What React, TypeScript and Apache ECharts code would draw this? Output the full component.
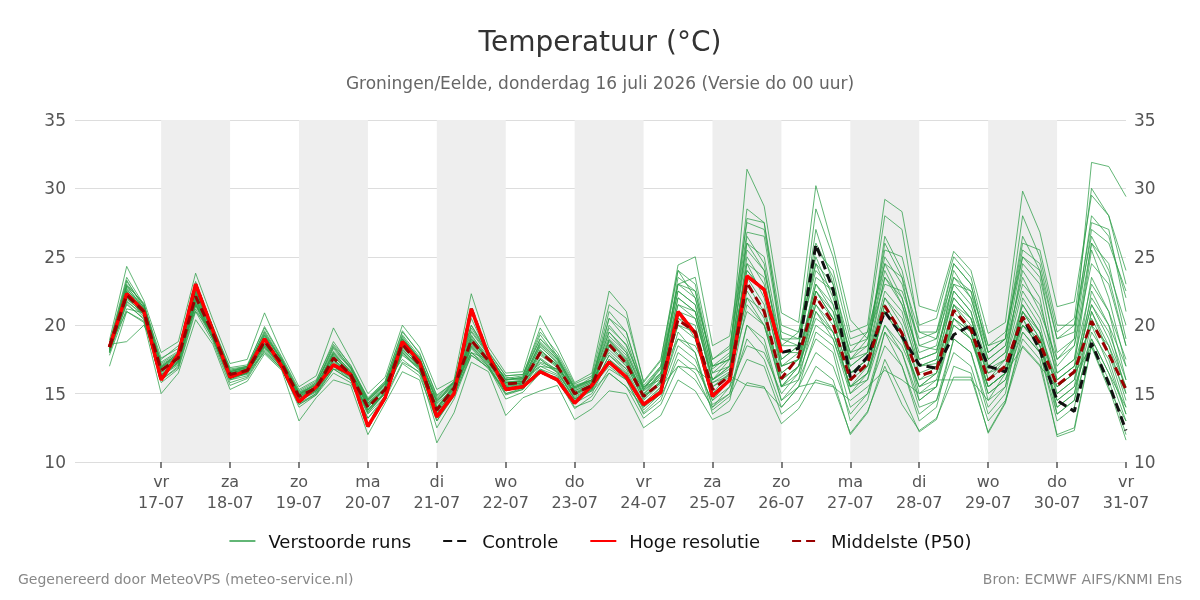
import React, { useEffect, useRef } from "react";
import * as echarts from "echarts";

// x in hours after 17-07-2026 00:00; runs are 6-hourly from 16-07 06:00
const firstHour = -18;
const stepHours = 6;
const axisMinHour = -30;
const axisMaxHour = 336;
const dayLabels = ["vr", "za", "zo", "ma", "di", "wo", "do", "vr", "za", "zo", "ma", "di", "wo", "do", "vr"];
const dateLabels = ["17-07", "18-07", "19-07", "20-07", "21-07", "22-07", "23-07", "24-07", "25-07", "26-07", "27-07", "28-07", "29-07", "30-07", "31-07"];
const shadedDates = ["17-07", "19-07", "21-07", "23-07", "25-07", "27-07", "29-07"];
const yTicks = [10, 15, 20, 25, 30, 35];

const hres = [18.4, 22.3, 21.0, 16.0, 17.9, 23.0, 19.6, 16.2, 16.7, 19.0,
  17.0, 14.4, 15.5, 17.1, 16.4, 12.6, 14.7, 18.8, 17.3, 13.3,
  15.0, 21.2, 17.8, 15.3, 15.5, 16.6, 16.0, 14.3, 15.6, 17.3,
  16.2, 14.2, 15.1, 21.0, 19.4, 14.8, 16.0, 23.6, 22.6, 18.0];

const controle = [18.4, 22.3, 21.0, 16.0, 17.9, 23.0, 19.6, 16.2, 16.7, 19.0,
  17.0, 14.4, 15.5, 17.1, 16.4, 12.6, 14.7, 18.8, 17.3, 13.3,
  15.0, 21.2, 17.8, 15.3, 15.5, 16.6, 16.0, 14.3, 15.6, 17.3,
  16.2, 14.2, 15.1, 21.0, 19.4, 14.8, 16.0, 23.6, 22.6, 18.0,
  18.3, 25.9, 22.6, 16.2, 17.7, 21.0, 19.2, 17.1, 16.85, 19.3,
  20.0, 17.0, 16.6, 20.6, 18.2, 14.5, 13.7, 18.7, 15.75, 12.3];

const p50 = [18.4, 22.2, 21.0, 16.7, 17.6, 22.1, 19.4, 16.4, 16.7, 18.8,
  17.2, 14.8, 15.4, 17.6, 16.4, 14.0, 15.3, 18.6, 17.1, 13.8,
  15.4, 18.9, 17.4, 15.7, 15.8, 18.0, 17.0, 15.0, 15.6, 18.6,
  17.2, 14.8, 15.8, 20.4, 19.5, 15.3, 16.3, 23.1, 21.0, 16.1,
  17.7, 22.1, 20.1, 16.0, 17.2, 21.4, 19.4, 16.3, 16.7, 21.1,
  19.7, 16.0, 17.0, 20.6, 18.7, 15.6, 16.6, 20.3, 17.9, 15.3];

const m01 = [18.6, 23.0, 21.5, 17.2, 18.0, 22.6, 19.8, 16.8, 17.0, 19.2, 17.5, 15.0, 15.6, 18.0, 16.6, 14.3, 15.5, 19.0, 17.4, 14.0, 15.6, 19.5, 17.8, 16.0, 16.1, 18.6, 17.4, 15.3, 15.9, 19.5, 18.0, 15.2, 16.3, 21.5, 20.5, 16.0, 17.0, 24.5, 22.0, 17.0, 18.0, 23.0, 21.0, 17.0, 18.0, 23.5, 22.0, 17.5, 18.0, 23.0, 21.5, 17.5, 18.5, 23.5, 21.0, 17.5, 19.0, 31.9, 31.6, 29.4];
const m02 = [18.2, 22.5, 20.8, 16.5, 17.4, 21.8, 19.2, 16.2, 16.5, 18.5, 17.0, 14.5, 15.2, 17.2, 16.2, 13.6, 15.0, 18.2, 17.0, 13.5, 15.2, 18.5, 17.2, 15.5, 15.7, 17.8, 16.9, 14.8, 15.4, 18.9, 17.6, 14.9, 16.4, 22.0, 21.0, 16.5, 17.6, 31.4, 28.7, 20.9, 20.2, 30.2, 25.7, 20.4, 19.0, 25.0, 23.0, 18.5, 18.2, 22.0, 20.5, 16.8, 17.5, 21.5, 19.5, 16.0, 17.0, 22.0, 20.0, 17.0];
const m03 = [18.0, 21.5, 20.5, 16.0, 17.0, 21.5, 19.0, 16.0, 16.3, 18.3, 16.9, 14.2, 15.0, 17.0, 16.0, 13.2, 14.8, 18.0, 16.8, 13.0, 14.8, 18.0, 17.0, 15.0, 15.3, 17.0, 16.4, 14.3, 15.0, 17.5, 16.5, 14.0, 15.0, 18.5, 17.5, 14.2, 15.0, 19.0, 17.5, 14.0, 15.5, 18.0, 17.0, 13.5, 15.0, 18.5, 17.0, 13.5, 14.5, 18.0, 17.0, 13.0, 14.5, 19.0, 17.5, 11.85, 12.3, 18.5, 15.5, 11.6];
const m04 = [18.6, 18.8, 20.0, 17.5, 18.5, 21.0, 19.5, 16.7, 16.9, 18.5, 17.3, 15.0, 15.5, 16.8, 16.5, 14.5, 15.8, 17.5, 16.5, 14.5, 15.5, 18.0, 17.5, 16.2, 16.0, 17.0, 16.8, 15.5, 16.0, 18.0, 16.8, 15.5, 16.5, 19.0, 18.5, 15.8, 16.6, 21.0, 20.0, 16.5, 17.5, 21.5, 20.0, 16.5, 17.5, 22.0, 20.5, 17.0, 17.2, 21.0, 19.5, 16.5, 17.0, 20.0, 19.0, 16.0, 17.0, 20.0, 18.5, 15.5];
const m05 = [17.0, 21.0, 20.2, 15.0, 16.5, 20.4, 18.6, 15.3, 15.9, 17.9, 16.7, 13.0, 14.7, 16.0, 15.6, 12.0, 14.3, 16.6, 16.0, 11.4, 13.6, 17.3, 16.6, 13.4, 14.7, 15.2, 15.6, 13.1, 13.9, 15.2, 15.0, 12.5, 13.4, 16.0, 15.2, 13.1, 13.7, 15.8, 15.5, 12.8, 13.9, 16.0, 15.6, 12.1, 13.7, 17.0, 14.2, 12.3, 13.2, 16.2, 16.2, 12.2, 14.4, 18.5, 17.1, 12.0, 12.5, 18.6, 16.0, 12.0];
const m06 = [18.9, 24.3, 21.8, 18.0, 18.8, 23.8, 20.4, 17.2, 17.5, 20.9, 18.0, 15.5, 16.3, 19.8, 17.5, 15.0, 16.2, 20.0, 18.4, 15.3, 16.0, 22.3, 18.4, 16.5, 16.6, 20.7, 18.4, 15.8, 16.5, 22.5, 21.0, 15.8, 17.4, 24.4, 25.0, 18.5, 19.2, 27.5, 27.0, 19.5, 19.0, 25.0, 22.0, 18.0, 18.5, 24.0, 21.5, 18.0, 18.5, 24.0, 22.0, 17.5, 18.5, 25.0, 23.5, 18.0, 19.0, 27.0, 26.0, 22.5];
const m07 = [18.3, 22.0, 21.2, 16.8, 17.5, 22.5, 19.6, 16.5, 16.8, 19.0, 17.3, 14.9, 15.5, 18.0, 16.6, 14.2, 15.4, 19.0, 17.5, 14.0, 15.5, 19.3, 17.5, 15.8, 15.9, 18.8, 17.5, 15.2, 15.8, 20.5, 19.5, 15.5, 16.0, 23.5, 22.5, 17.0, 17.5, 27.8, 27.5, 19.0, 18.5, 28.5, 25.0, 19.5, 20.0, 29.2, 28.3, 21.4, 21.0, 25.4, 24.0, 19.4, 20.2, 29.8, 26.8, 21.35, 21.7, 29.5, 28.0, 24.0];
const m08 = [18.1, 21.8, 20.6, 16.2, 17.3, 21.6, 19.1, 16.1, 16.5, 18.4, 17.0, 14.6, 15.3, 17.3, 16.3, 13.8, 15.1, 18.3, 16.9, 13.5, 15.1, 18.5, 17.1, 15.4, 15.6, 17.5, 16.6, 14.6, 15.2, 17.5, 16.4, 13.8, 15.0, 19.5, 18.0, 13.5, 14.5, 20.0, 19.0, 14.5, 16.0, 19.0, 18.0, 13.0, 14.5, 19.5, 17.0, 13.0, 14.0, 19.0, 18.0, 13.5, 15.0, 21.0, 19.0, 14.0, 15.0, 21.0, 18.0, 14.0];
const m09 = [18.5, 22.8, 21.3, 17.0, 17.8, 22.9, 19.7, 16.6, 16.9, 19.5, 17.4, 14.9, 15.7, 18.3, 16.8, 14.4, 15.7, 19.3, 17.7, 14.3, 15.8, 19.8, 17.9, 16.0, 16.2, 19.0, 17.8, 15.6, 16.0, 19.8, 18.6, 15.4, 17.0, 23.0, 23.5, 17.5, 18.5, 26.0, 25.0, 18.5, 19.5, 26.0, 23.5, 17.5, 18.0, 26.5, 24.0, 18.5, 19.0, 24.5, 23.0, 18.0, 19.0, 25.5, 24.5, 19.0, 20.0, 26.5, 24.0, 20.0];
const m10 = [18.0, 22.1, 20.7, 16.4, 17.2, 21.9, 19.2, 16.2, 16.4, 18.6, 17.1, 14.6, 15.2, 17.5, 16.2, 13.8, 15.2, 18.1, 16.9, 13.6, 15.3, 18.7, 17.3, 15.5, 15.8, 17.3, 16.8, 14.9, 15.5, 17.0, 16.0, 13.6, 14.8, 17.5, 16.5, 13.8, 14.8, 17.5, 17.0, 13.5, 14.5, 17.0, 16.0, 12.0, 13.6, 17.5, 15.0, 12.2, 13.1, 17.0, 16.5, 12.1, 14.3, 19.5, 18.0, 13.5, 14.5, 19.0, 16.5, 13.0];
const m11 = [18.7, 23.5, 21.5, 17.6, 18.3, 22.8, 19.9, 16.9, 17.1, 19.8, 17.6, 15.2, 15.9, 18.8, 17.0, 14.7, 15.9, 19.5, 18.0, 14.8, 15.9, 20.0, 18.0, 16.3, 16.4, 19.5, 18.0, 15.7, 16.3, 21.5, 20.5, 15.9, 17.5, 24.0, 23.0, 17.0, 18.0, 28.5, 27.5, 20.0, 19.5, 24.5, 23.0, 18.5, 19.0, 25.5, 25.0, 20.0, 20.5, 25.0, 23.5, 18.5, 19.0, 28.0, 25.0, 19.5, 20.5, 30.0, 28.0, 23.0];
const m12 = [17.8, 21.2, 20.9, 16.0, 16.9, 21.2, 19.0, 15.8, 16.2, 18.2, 16.8, 14.0, 14.9, 16.8, 16.0, 13.5, 14.8, 17.3, 16.6, 12.5, 14.6, 17.8, 16.9, 14.6, 15.1, 16.5, 16.2, 14.0, 14.5, 16.5, 15.5, 13.2, 14.2, 17.0, 16.0, 14.0, 15.5, 18.5, 18.0, 15.0, 16.5, 20.0, 19.0, 15.0, 16.0, 20.0, 18.0, 14.5, 15.5, 20.0, 19.0, 15.0, 16.0, 20.5, 18.0, 13.0, 14.0, 19.5, 17.5, 13.5];
const m13 = [18.4, 22.4, 21.1, 16.6, 17.6, 22.2, 19.4, 16.4, 16.7, 18.9, 17.2, 14.8, 15.4, 17.8, 16.4, 14.0, 15.3, 18.7, 17.2, 13.8, 15.4, 19.0, 17.4, 15.7, 15.8, 18.2, 17.1, 15.0, 15.6, 18.8, 17.4, 14.8, 15.8, 22.0, 21.0, 15.5, 16.5, 25.0, 23.0, 17.0, 17.5, 23.5, 22.5, 16.5, 17.5, 22.5, 21.0, 16.5, 17.0, 22.5, 21.0, 16.0, 17.5, 24.5, 23.0, 16.5, 17.5, 26.0, 24.5, 19.0];
const m14 = [18.2, 22.7, 21.0, 16.9, 17.7, 21.9, 19.3, 16.3, 16.6, 18.7, 17.1, 14.7, 15.3, 17.5, 16.5, 14.1, 15.4, 18.4, 17.1, 14.2, 15.5, 18.8, 17.6, 15.9, 15.9, 17.9, 17.0, 15.1, 15.7, 18.2, 17.0, 14.6, 16.0, 20.0, 19.5, 15.5, 16.2, 22.0, 21.0, 16.0, 17.0, 20.5, 19.5, 15.5, 16.5, 21.0, 19.0, 15.5, 16.0, 20.5, 19.0, 15.5, 16.5, 20.5, 18.5, 14.5, 15.5, 22.5, 20.0, 15.0];
const m15 = [18.5, 21.0, 20.3, 16.3, 17.4, 21.4, 19.0, 16.0, 16.5, 18.0, 16.8, 14.3, 15.0, 16.8, 16.0, 13.9, 15.0, 17.8, 16.9, 13.7, 15.2, 18.0, 16.8, 15.2, 15.5, 16.8, 16.3, 14.5, 15.2, 16.5, 15.5, 14.0, 15.5, 17.0, 16.8, 15.8, 16.3, 15.6, 15.4, 14.0, 15.5, 15.8, 15.5, 14.5, 15.5, 16.7, 16.0, 15.0, 16.0, 16.0, 16.0, 14.5, 16.5, 18.4, 17.0, 15.5, 16.5, 18.4, 15.3, 13.0];
const m16 = [18.4, 23.2, 21.4, 16.9, 18.0, 22.5, 19.6, 16.5, 16.8, 19.3, 17.4, 15.0, 15.7, 18.5, 16.9, 14.5, 15.6, 19.2, 17.5, 14.6, 15.7, 20.5, 17.8, 16.1, 16.3, 19.8, 17.7, 15.4, 16.2, 20.0, 18.5, 15.6, 17.0, 24.0, 22.0, 16.5, 17.0, 26.5, 24.5, 17.5, 18.5, 27.0, 23.0, 17.0, 18.0, 26.0, 23.5, 17.0, 17.5, 23.5, 22.5, 17.0, 18.0, 24.0, 22.0, 16.0, 17.0, 25.5, 22.0, 17.0];
const m17 = [18.0, 21.6, 20.4, 15.8, 16.8, 21.0, 18.8, 15.6, 16.1, 18.1, 16.8, 14.2, 14.9, 16.5, 15.8, 13.2, 14.6, 17.2, 16.3, 13.0, 14.9, 17.8, 16.9, 14.9, 15.3, 16.8, 16.0, 13.9, 14.8, 16.8, 16.0, 13.5, 14.5, 18.0, 17.0, 14.5, 15.5, 21.5, 20.0, 15.5, 16.0, 21.0, 19.5, 15.5, 16.0, 21.5, 19.5, 15.0, 15.5, 20.5, 19.5, 14.5, 15.5, 22.0, 20.0, 15.0, 16.0, 23.5, 21.0, 16.0];
const m18 = [18.6, 22.9, 21.6, 17.3, 18.1, 23.2, 19.9, 16.7, 17.0, 19.9, 17.7, 15.3, 16.0, 18.6, 17.1, 14.6, 15.9, 19.6, 17.9, 14.9, 15.8, 21.0, 18.1, 16.3, 16.4, 19.0, 17.6, 15.5, 16.0, 21.0, 19.5, 15.3, 16.8, 22.5, 21.5, 16.0, 17.5, 25.5, 24.0, 18.0, 18.0, 22.5, 20.5, 17.5, 19.0, 23.0, 22.5, 19.0, 19.5, 23.5, 22.0, 18.0, 19.0, 26.0, 25.5, 20.0, 20.0, 27.5, 27.0, 21.0];
const m19 = [18.3, 21.9, 20.9, 16.4, 17.3, 21.7, 19.2, 16.3, 16.6, 18.5, 17.0, 14.5, 15.2, 17.0, 16.2, 13.8, 15.1, 18.0, 16.8, 13.2, 15.0, 18.3, 17.0, 15.0, 15.4, 17.5, 16.5, 14.6, 15.3, 17.8, 16.8, 14.3, 15.5, 21.0, 19.0, 14.5, 16.0, 23.5, 21.5, 15.5, 16.5, 22.0, 20.5, 15.0, 16.5, 21.0, 19.5, 14.5, 15.5, 21.5, 20.0, 15.5, 16.5, 21.5, 19.5, 13.5, 14.5, 21.0, 18.5, 14.5];
const m20 = [18.7, 22.6, 21.3, 17.1, 17.9, 22.4, 19.5, 16.6, 16.9, 19.1, 17.3, 15.1, 15.6, 17.9, 16.7, 14.3, 15.5, 18.8, 17.4, 14.5, 15.6, 19.2, 17.7, 15.8, 16.0, 18.4, 17.3, 15.2, 15.8, 19.2, 18.0, 15.0, 16.5, 22.5, 21.5, 16.8, 17.8, 24.0, 22.5, 17.5, 18.5, 24.5, 21.5, 17.5, 18.5, 24.5, 22.0, 17.5, 18.0, 22.5, 21.0, 17.0, 18.0, 23.0, 21.5, 17.0, 18.5, 24.5, 23.0, 18.5];
const m21 = [18.3, 22.9, 21.1, 16.6, 17.5, 22.3, 19.5, 16.5, 16.8, 18.9, 17.2, 14.8, 15.5, 17.9, 16.5, 14.1, 15.4, 18.9, 17.3, 13.9, 15.5, 19.0, 17.5, 15.7, 15.9, 18.5, 17.2, 15.0, 15.6, 18.9, 17.5, 14.9, 16.2, 21.5, 21.0, 16.0, 16.8, 24.0, 22.5, 16.5, 17.5, 22.5, 20.5, 16.0, 17.0, 22.0, 20.0, 16.0, 16.5, 21.5, 20.5, 16.0, 17.0, 21.0, 19.0, 15.5, 16.5, 21.5, 19.0, 15.5];
const m22 = [18.5, 22.2, 21.4, 16.9, 17.8, 22.0, 19.6, 16.4, 16.6, 19.3, 17.4, 14.7, 15.4, 17.7, 16.6, 14.3, 15.3, 18.5, 17.0, 14.0, 15.3, 18.8, 17.3, 15.6, 15.8, 18.2, 17.1, 14.9, 15.6, 19.0, 17.8, 14.7, 15.8, 20.5, 20.0, 15.0, 16.0, 22.5, 20.5, 15.5, 17.0, 21.0, 19.0, 15.5, 17.0, 21.5, 19.5, 16.0, 17.0, 21.5, 19.5, 15.5, 16.5, 20.0, 18.5, 15.0, 16.0, 20.5, 18.0, 15.0];
const m23 = [18.4, 22.0, 20.8, 16.8, 17.7, 22.7, 19.7, 16.6, 17.0, 19.4, 17.5, 14.9, 15.8, 18.1, 16.9, 14.6, 15.8, 19.0, 17.6, 14.4, 15.9, 19.6, 17.9, 16.0, 16.1, 18.7, 17.5, 15.4, 15.9, 19.5, 18.2, 15.3, 16.9, 23.0, 22.0, 17.5, 18.3, 26.8, 26.5, 19.0, 19.0, 24.0, 22.5, 18.0, 19.5, 24.5, 23.5, 19.5, 19.0, 23.0, 22.5, 18.5, 19.5, 25.0, 24.0, 19.0, 19.5, 28.0, 26.5, 22.0];
const m24 = [18.1, 21.7, 20.8, 16.3, 17.1, 21.6, 19.1, 16.1, 16.5, 18.4, 16.9, 14.5, 15.1, 17.1, 16.1, 13.7, 15.0, 17.9, 16.7, 13.4, 15.0, 18.4, 17.0, 15.2, 15.5, 17.2, 16.6, 14.6, 15.3, 17.8, 16.6, 14.2, 15.3, 19.0, 18.0, 14.0, 15.0, 20.0, 18.5, 14.5, 15.5, 19.5, 18.5, 14.0, 15.0, 19.5, 18.0, 14.0, 14.5, 19.0, 18.0, 14.0, 15.5, 20.0, 18.5, 14.0, 15.0, 20.0, 17.0, 13.5];
const m25 = [18.6, 23.3, 21.2, 17.0, 17.9, 22.7, 19.7, 16.6, 16.9, 19.6, 17.5, 15.1, 15.8, 18.4, 16.9, 14.5, 15.7, 19.1, 17.6, 14.7, 15.8, 20.0, 17.8, 16.0, 16.2, 19.3, 17.6, 15.4, 16.0, 20.5, 19.0, 15.2, 16.5, 23.0, 22.5, 17.0, 17.5, 26.0, 24.0, 18.5, 18.5, 25.5, 24.0, 19.0, 19.5, 28.0, 27.0, 19.5, 19.5, 24.5, 23.0, 18.0, 19.0, 26.5, 24.0, 17.5, 18.5, 26.0, 23.5, 18.5];
const m26 = [18.2, 22.1, 21.0, 16.2, 17.3, 21.5, 19.2, 16.2, 16.5, 18.7, 17.1, 14.6, 15.3, 17.4, 16.3, 13.6, 15.1, 18.2, 17.0, 13.2, 15.0, 18.6, 17.3, 15.4, 15.7, 17.6, 16.7, 14.7, 15.4, 18.4, 17.1, 14.5, 15.7, 20.5, 19.5, 15.0, 16.0, 23.0, 21.0, 16.0, 17.0, 22.5, 21.0, 16.5, 17.0, 21.0, 19.0, 15.5, 16.5, 20.5, 19.5, 15.0, 16.0, 19.5, 18.0, 14.5, 15.5, 19.0, 16.5, 14.0];
const m27 = [18.5, 22.5, 21.2, 16.7, 17.6, 22.4, 19.5, 16.5, 16.8, 19.0, 17.3, 14.9, 15.5, 17.7, 16.5, 14.0, 15.4, 18.6, 17.2, 13.9, 15.5, 19.1, 17.5, 15.8, 15.9, 18.1, 17.1, 15.0, 15.7, 18.5, 17.3, 14.8, 15.9, 21.0, 20.5, 16.0, 17.0, 24.5, 23.5, 17.0, 17.5, 23.0, 21.5, 16.5, 17.5, 23.5, 21.5, 17.0, 17.5, 22.0, 20.5, 16.5, 17.5, 22.5, 20.5, 16.5, 17.5, 23.0, 21.0, 17.5];
const m28 = [18.4, 22.4, 20.9, 16.6, 17.4, 22.0, 19.3, 16.4, 16.7, 18.9, 17.2, 14.8, 15.4, 17.5, 16.4, 14.2, 15.3, 18.6, 17.1, 13.8, 15.4, 18.9, 17.4, 15.6, 15.8, 18.0, 17.0, 15.0, 15.6, 18.6, 17.2, 14.8, 15.8, 20.0, 19.0, 15.0, 16.5, 22.0, 20.0, 15.5, 17.0, 21.5, 19.5, 15.5, 16.5, 20.0, 18.5, 15.5, 16.5, 20.0, 19.0, 15.5, 16.5, 21.0, 19.5, 15.5, 16.5, 21.5, 19.5, 16.0];

const members = [m01, m02, m03, m04, m05, m06, m07, m08, m09, m10, m11, m12, m13, m14,
  m15, m16, m17, m18, m19, m20, m21, m22, m23, m24, m25, m26, m27, m28];

const FONT = "DejaVu Sans";

function pairs(arr: number[]) {
  return arr.map((v, i) => [firstHour + i * stepHours, v]);
}
function dateHour(date: string) {
  return dateLabels.indexOf(date) * 24;
}

export default function App() {
  const ref = useRef<HTMLDivElement>(null);
  useEffect(() => {
    document.body.style.margin = "0";
    const chart = echarts.init(ref.current!, null, { renderer: "svg" });
    const ensColor = "#2e9e48";
    const labelHours = dateLabels.map(dateHour);
    const series: any[] = [
      {
        type: "line",
        name: "bands",
        data: [],
        silent: true,
        markArea: {
          silent: true,
          itemStyle: { color: "#eeeeee" },
          data: shadedDates.map((d) => [{ xAxis: dateHour(d) }, { xAxis: dateHour(d) + 24 }]),
        },
      },
      ...members.map((m) => ({
        type: "line",
        name: "Verstoorde runs",
        data: pairs(m),
        symbol: "none",
        silent: true,
        itemStyle: { color: ensColor },
        lineStyle: { color: ensColor, width: 1, opacity: 0.75 },
      })),
      {
        type: "line",
        name: "Controle",
        data: pairs(controle),
        symbol: "none",
        itemStyle: { color: "#111111" },
        lineStyle: { color: "#111111", width: 3, type: [9, 5] },
        z: 5,
      },
      {
        type: "line",
        name: "Hoge resolutie",
        data: pairs(hres),
        symbol: "none",
        itemStyle: { color: "#ff0000" },
        lineStyle: { color: "#ff0000", width: 3.5 },
        z: 6,
      },
      {
        type: "line",
        name: "Middelste (P50)",
        data: pairs(p50),
        symbol: "none",
        itemStyle: { color: "#990000" },
        lineStyle: { color: "#990000", width: 3, type: [9, 5] },
        z: 7,
      },
    ];

    chart.setOption({
      animation: false,
      textStyle: { fontFamily: FONT },
      title: {
        text: "Temperatuur (°C)",
        subtext: "Groningen/Eelde, donderdag 16 juli 2026 (Versie do 00 uur)",
        left: "center",
        top: 22,
        itemGap: 19,
        textStyle: { fontFamily: FONT, fontSize: 28, fontWeight: "normal", color: "#333333" },
        subtextStyle: { fontFamily: FONT, fontSize: 17, color: "#666666" },
      },
      legend: {
        data: ["Verstoorde runs", "Controle", "Hoge resolutie", "Middelste (P50)"],
        top: 527,
        left: "center",
        itemWidth: 26,
        itemHeight: 14,
        itemGap: 31,
        itemStyle: { opacity: 0 },
        textStyle: { fontFamily: FONT, fontSize: 18, color: "#111111", padding: [0, 0, 0, 8] },
      },
      grid: { left: 75, right: 74, top: 120, bottom: 138, containLabel: false },
      xAxis: {
        type: "value",
        min: axisMinHour,
        max: axisMaxHour,
        axisLine: { show: false },
        axisTick: { show: true, length: 6, customValues: labelHours, lineStyle: { color: "#555555", width: 1.5 } },
        splitLine: { show: false },
        axisLabel: {
          customValues: labelHours,
          showMinLabel: true,
          showMaxLabel: true,
          fontFamily: FONT,
          fontSize: 16,
          color: "#555555",
          lineHeight: 21,
          margin: 9,
          hideOverlap: false,
          formatter: (v: number) => {
            const idx = Math.round(v / 24);
            return `${dayLabels[idx] ?? ""}\n${dateLabels[idx] ?? ""}`;
          },
        },
      },
      yAxis: [
        {
          type: "value",
          min: yTicks[0],
          max: yTicks[yTicks.length - 1],
          interval: 5,
          axisLine: { show: false },
          axisTick: { show: false },
          splitLine: { lineStyle: { color: "#dddddd", width: 1 } },
          axisLabel: { fontFamily: FONT, fontSize: 17, color: "#555555", margin: 9 },
        },
        {
          type: "value",
          position: "right",
          min: yTicks[0],
          max: yTicks[yTicks.length - 1],
          interval: 5,
          axisLine: { show: false },
          axisTick: { show: false },
          splitLine: { show: false },
          axisLabel: { fontFamily: FONT, fontSize: 17, color: "#555555", margin: 8 },
        },
      ],
      graphic: [
        {
          type: "text",
          left: 18,
          top: 572,
          style: { text: "Gegenereerd door MeteoVPS (meteo-service.nl)", fontFamily: FONT, fontSize: 14, fill: "#888888" },
        },
        {
          type: "text",
          right: 18,
          top: 572,
          style: { text: "Bron: ECMWF AIFS/KNMI Ens", fontFamily: FONT, fontSize: 14, fill: "#888888" },
        },
      ],
      series,
    });
    return () => chart.dispose();
  }, []);
  return <div ref={ref} style={{ width: 1200, height: 600, position: "fixed", left: 0, top: 0 }} />;
}
